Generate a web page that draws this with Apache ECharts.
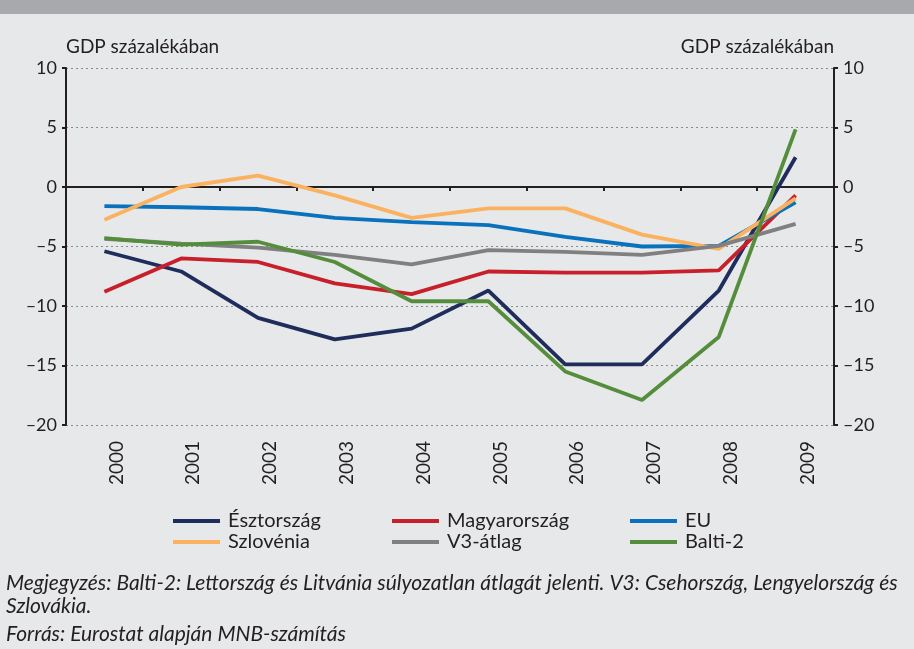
<!DOCTYPE html>
<html>
<head>
<meta charset="utf-8">
<script src="https://cdn.jsdelivr.net/npm/echarts@6/dist/echarts.min.js"></script>
<style>
html,body{margin:0;padding:0;background:#e7e8e9;}
#c{width:914px;height:649px;}
</style>
</head>
<body>
<div id="c"></div>
<script>
const years = ['2000','2001','2002','2003','2004','2005','2006','2007','2008','2009'];
const esztorszag = [-5.4, -7.1, -11.0, -12.8, -11.9, -8.7, -14.9, -14.9, -8.7, 2.5];
const magyarorszag = [-8.8, -6.0, -6.3, -8.1, -9.0, -7.1, -7.2, -7.2, -7.0, -0.7];
const eu = [-1.6, -1.7, -1.85, -2.6, -2.95, -3.2, -4.2, -5.0, -4.95, -1.3];
const szlovenia = [-2.75, 0.0, 0.95, -0.7, -2.6, -1.8, -1.8, -4.0, -5.2, -0.95];
const v3atlag = [-4.35, -4.75, -5.1, -5.7, -6.5, -5.3, -5.45, -5.7, -4.95, -3.1];
const balti2 = [-4.3, -4.85, -4.6, -6.3, -9.6, -9.6, -15.5, -17.9, -12.6, 4.85];
const yTicks = [-20, -15, -10, -5, 0, 5, 10];

const FONT = 'Lato';
const TXT = '#231f20';
const chart = echarts.init(document.getElementById('c'));

function fmt(v){ return String(v).replace('-', '\u2013'); }

const yBase = {
  type: 'value', min: yTicks[0], max: yTicks[yTicks.length-1], interval: 5,
  axisLine: {show: true, lineStyle: {color: '#231f20', width: 2}},
  axisTick: {show: true, length: 4, lineStyle: {color: '#231f20', width: 2}},
  axisLabel: {color: TXT, fontFamily: FONT, fontSize: 18, margin: 9, formatter: fmt},
  nameGap: 12
};

function line(name, data, color){
  return {name, type: 'line', data, xAxisIndex: 0, yAxisIndex: 0, symbol: 'none',
    lineStyle: {color, width: 3.8}, itemStyle: {color}, z: 3};
}

const legendBase = {orient: 'vertical', top: 506, itemWidth: 47, itemHeight: 4, icon: 'rect',
  itemGap: 1, textStyle: {color: TXT, fontFamily: FONT, fontSize: 20, padding: [0,0,0,3]}};

chart.setOption({
  backgroundColor: '#e7e8e9',
  animation: false,
  grid: {left: 66, right: 80, top: 68, bottom: 224, containLabel: false},
  xAxis: [
    {type: 'category', data: years, position: 'bottom', boundaryGap: true,
      axisLine: {show: false, onZero: false}, axisTick: {show: false},
      axisLabel: {rotate: 90, color: TXT, fontFamily: FONT, fontSize: 19, margin: 16,
        verticalAlign: 'top', lineHeight: 24}},
    {type: 'category', data: years, position: 'top', boundaryGap: true,
      axisLine: {show: true, onZero: true, lineStyle: {color: '#231f20', width: 2}},
      axisTick: {show: true, inside: true, length: 4, lineStyle: {color: '#231f20', width: 2}},
      axisLabel: {show: false}}
  ],
  yAxis: [
    Object.assign({}, yBase, {position: 'left', name: 'GDP százalékában', nameLocation: 'end',
      nameTextStyle: {color: TXT, fontFamily: FONT, fontSize: 19, align: 'left'},
      splitLine: {show: true, lineStyle: {color: '#8a8a8a', type: [2,3], width: 1}}}),
    Object.assign({}, yBase, {position: 'right', name: 'GDP százalékában', nameLocation: 'end',
      nameTextStyle: {color: TXT, fontFamily: FONT, fontSize: 19, align: 'right'},
      splitLine: {show: false}})
  ],
  legend: [
    Object.assign({}, legendBase, {left: 168, data: ['Észtország', 'Szlovénia']}),
    Object.assign({}, legendBase, {left: 387, data: ['Magyarország', 'V3-átlag']}),
    Object.assign({}, legendBase, {left: 625, data: ['EU', 'Balti-2']})
  ],
  series: [
    line('Észtország', esztorszag, '#1f2d5c'),
    line('Magyarország', magyarorszag, '#c8202b'),
    line('EU', eu, '#0a72bd'),
    line('Szlovénia', szlovenia, '#fbb260'),
    line('V3-átlag', v3atlag, '#808080'),
    line('Balti-2', balti2, '#548e3c')
  ],
  graphic: [
    {type: 'rect', left: 0, top: 0, shape: {width: 914, height: 14}, style: {fill: '#a7a9ac'}},
    {type: 'text', left: 6, top: 573, style: {text: 'Megjegyzés: Balti-2: Lettország és Litvánia súlyozatlan átlagát jelenti. V3: Csehország, Lengyelország és', fill: TXT, font: 'italic 21px ' + FONT}},
    {type: 'text', left: 6, top: 596, style: {text: 'Szlovákia.', fill: TXT, font: 'italic 21px ' + FONT}},
    {type: 'text', left: 6, top: 624, style: {text: 'Forrás: Eurostat alapján MNB-számítás', fill: TXT, font: 'italic 21px ' + FONT}}
  ]
});
</script>
</body>
</html>
